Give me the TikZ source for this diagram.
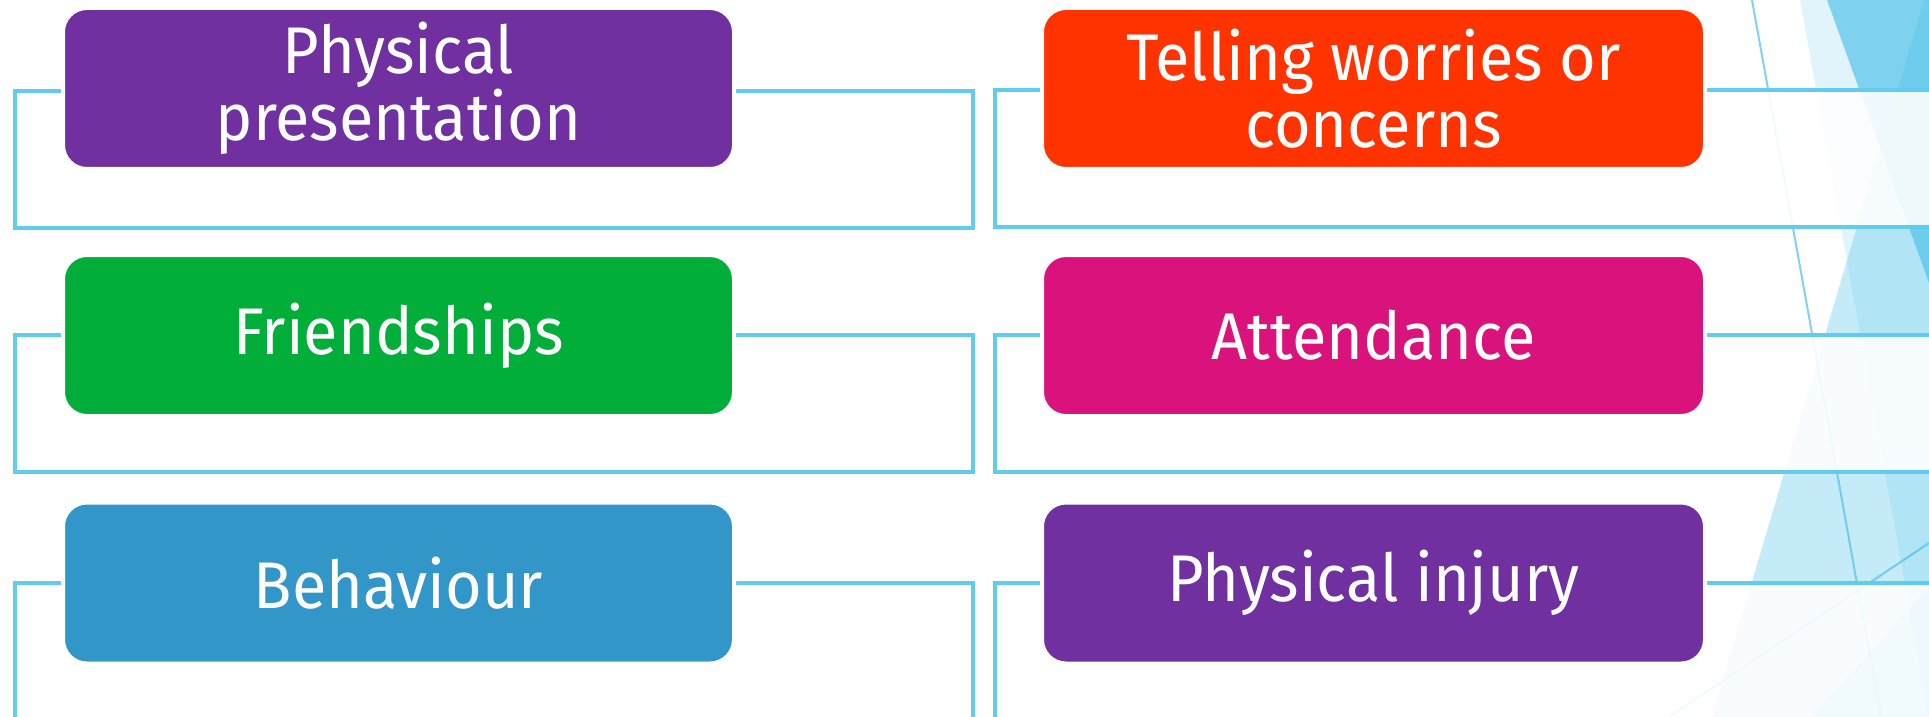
\documentclass[tikz,border=0pt]{standalone}
\usepackage{fontspec}
\setmainfont[FakeStretch=0.955]{Fira Sans}
\usetikzlibrary{calc}
\definecolor{linkblue}{RGB}{98,204,240}
\definecolor{facetblue}{RGB}{75,192,232}
\definecolor{cardpurple}{RGB}{112,48,160}
\definecolor{cardgreen}{RGB}{0,174,57}
\definecolor{cardblue}{RGB}{51,150,200}
\definecolor{cardred}{RGB}{255,51,0}
\definecolor{cardpink}{RGB}{217,18,124}
\begin{document}
\begin{tikzpicture}[x=0.5pt, y=-0.5pt,
    card/.style={rounded corners=12pt, draw=white, line width=2pt, text=white,
      minimum height=80.5pt, align=center, inner sep=0pt,
      font=\fontsize{33}{33.35}\selectfont},
    leftcard/.style={card, minimum width=335.5pt},
    rightcard/.style={card, minimum width=331.5pt},
    bracket/.style={draw=linkblue, line width=1.75pt, fill=white, fill opacity=0.89},
    facet/.style={fill=facetblue, draw=none}]
            % frame
            \useasboundingbox (0,0) rectangle (1929,717);
            \clip (0,0) rectangle (1929,717);
            % background facets
            \fill[facet, opacity=0.17] (1800,0) -- (1929,0) -- (1929,717) -- cycle;
            \fill[facet, opacity=0.32] (1924,0) -- (1929,0) -- (1929,717) -- (1712,717) -- cycle;
            \fill[facet, opacity=0.65] (1827,0) -- (1929,0) -- (1929,283) -- cycle;
            \fill[facet, opacity=0.55] (1929,587) -- (1929,717) -- (1812,717) -- cycle;
            % thin facet lines
            \coordinate (lineatop) at (1752,0);
            \coordinate (lineabot) at (1881,717);
            \coordinate (linebleft) at (1669,717);
            \coordinate (linebright) at (1929,543);
            \draw[facetblue, opacity=0.7, line width=1pt] (lineatop) -- (lineabot);
            \draw[facetblue, opacity=0.7, line width=1pt] (linebleft) -- (linebright);
            % brackets
            \draw[bracket] (15,91) rectangle (973,228);
            \draw[bracket] (15,335) rectangle (973,472);
            \draw[bracket] (15,583) rectangle (973,760);
            \draw[bracket] (995,90) rectangle (1960,227);
            \draw[bracket] (995,335) rectangle (1960,472);
            \draw[bracket] (995,583) rectangle (1960,760);
            % left cards
            \node[leftcard, fill=cardpurple] (pres) at (398.5,88.5) {Physical\\presentation};
            \node[leftcard, fill=cardgreen] (friend) at (398.5,335.5) {Friendships};
            \node[leftcard, fill=cardblue] (behav) at (398.5,583) {Behaviour};
            % right cards
            \node[rightcard, fill=cardred] (worry) at (1373.5,88.5) {Telling worries or\\concerns};
            \node[rightcard, fill=cardpink] (attend) at (1373.5,335.5) {Attendance};
            \node[rightcard, fill=cardpurple] (injury) at (1373.5,583) {Physical injury};
        \end{tikzpicture}
\end{document}
